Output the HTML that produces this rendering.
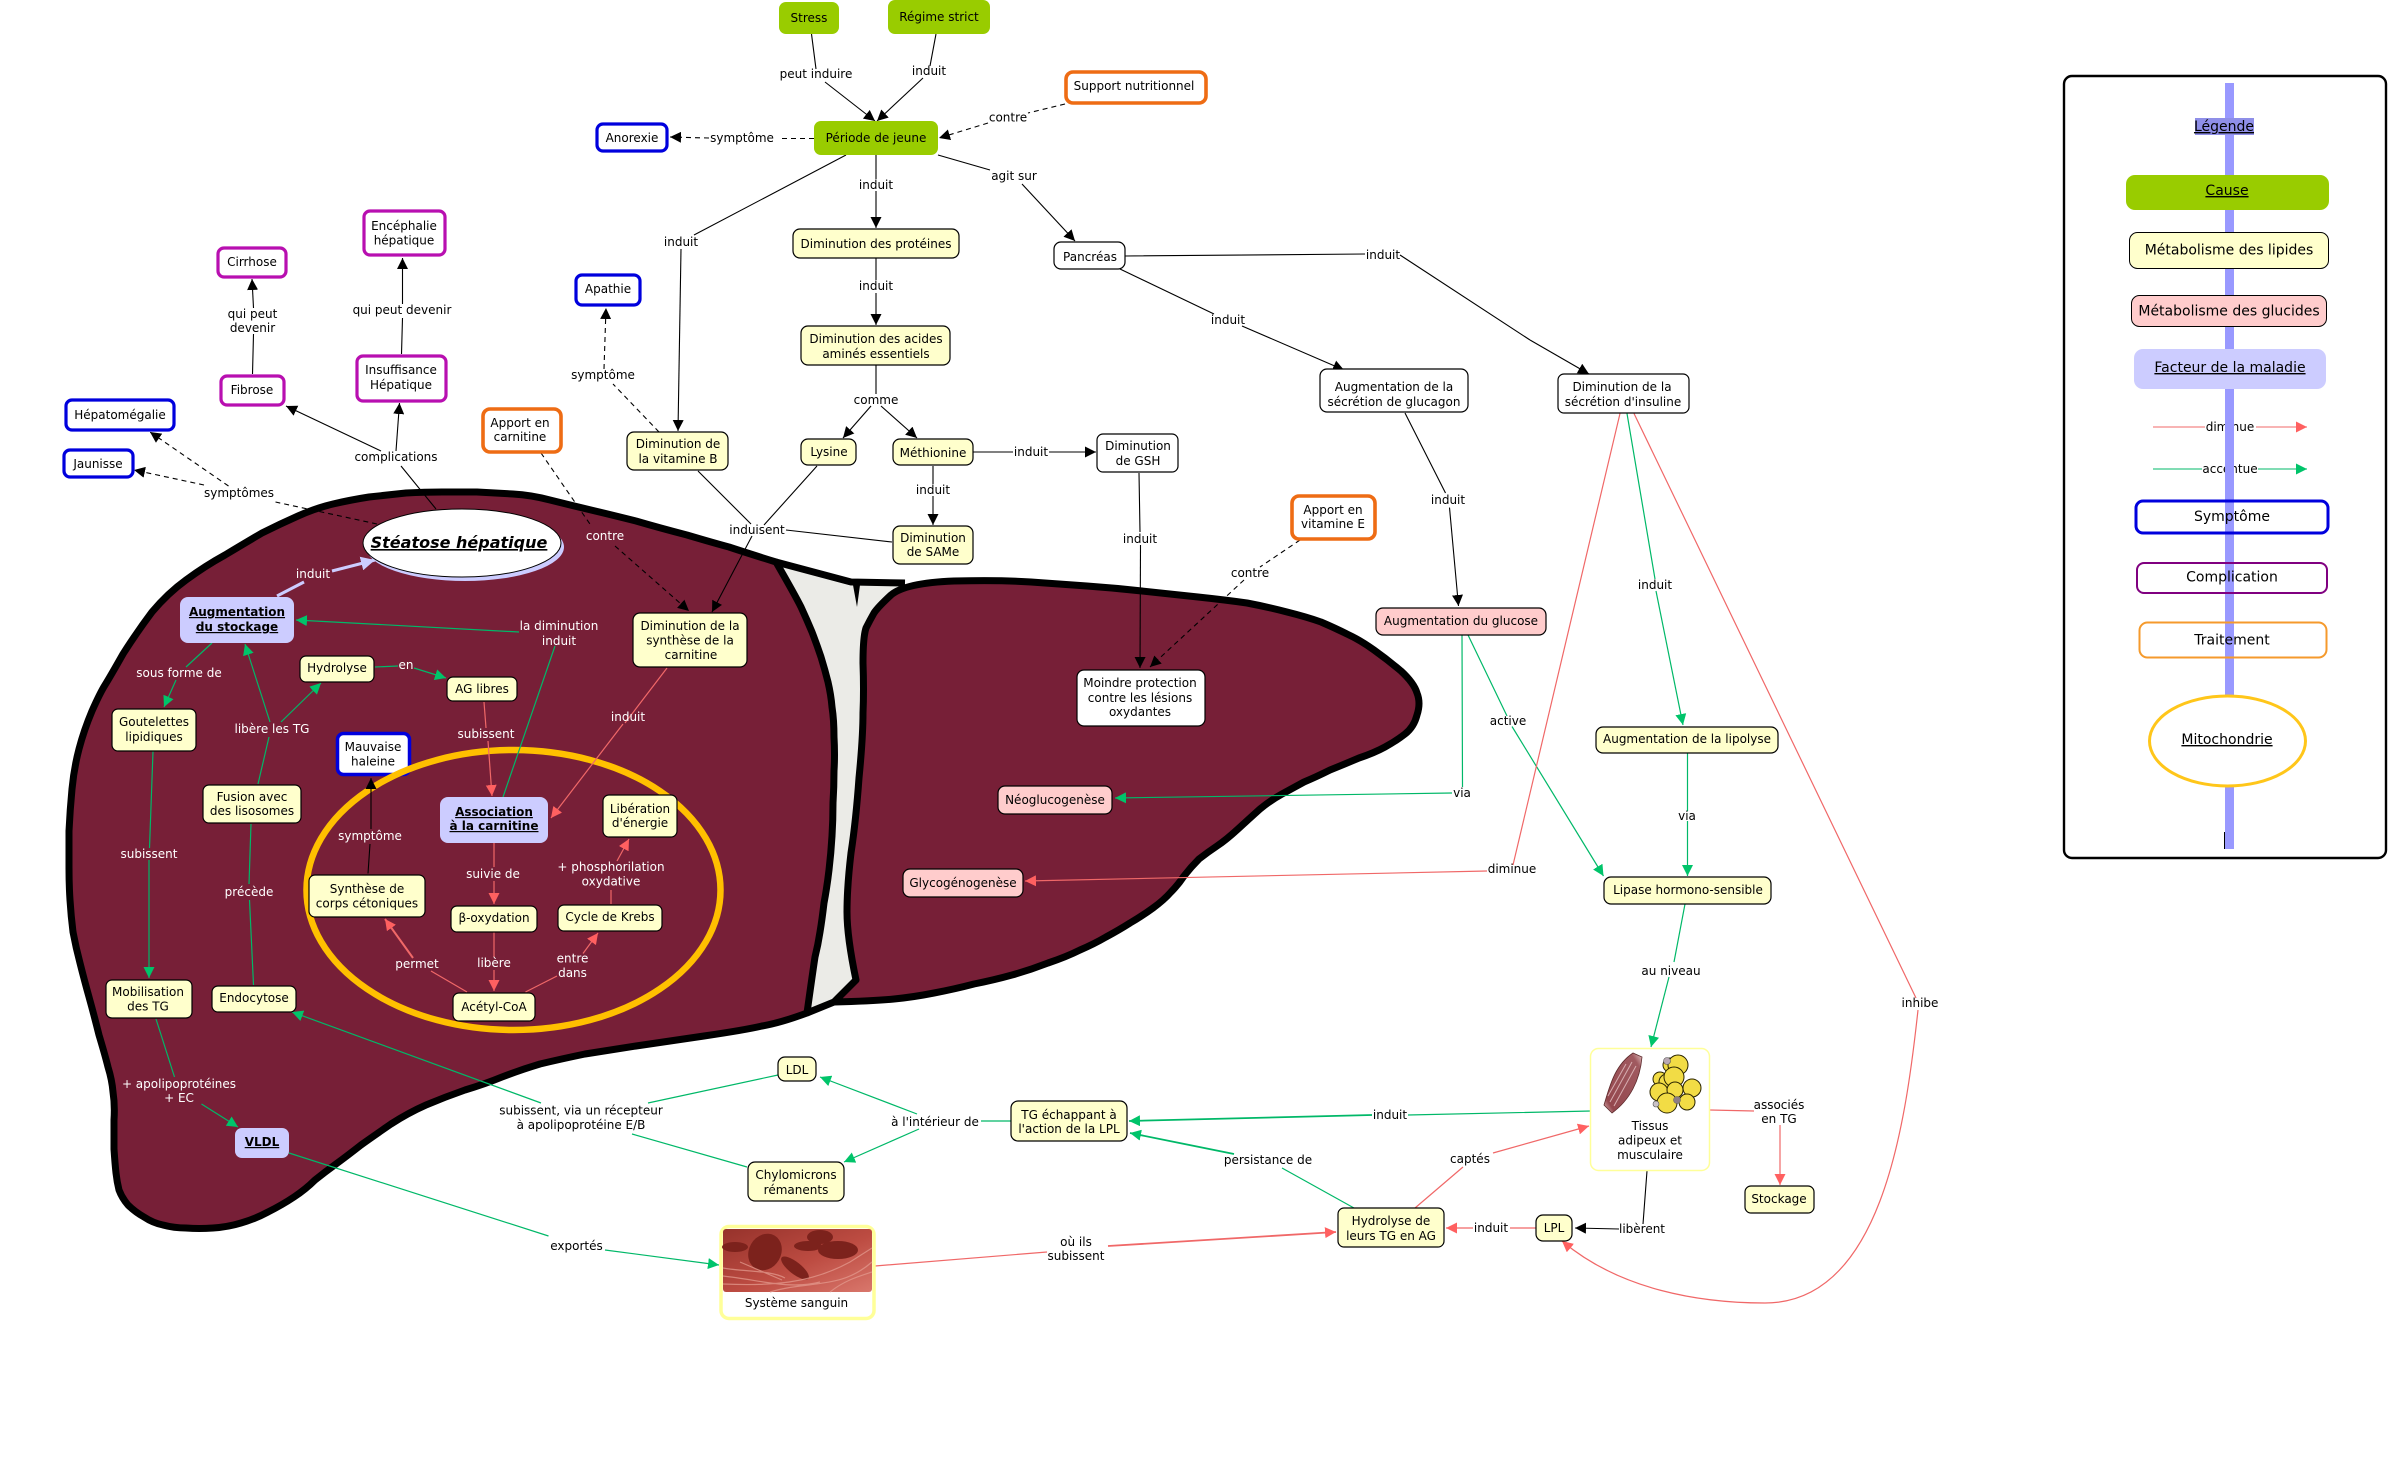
<!DOCTYPE html>
<html lang="fr"><head><meta charset="utf-8"><title>Stéatose hépatique</title>
<style>
html,body{margin:0;padding:0;background:#fff}
svg{display:block}
text{font-family:"DejaVu Sans","Liberation Sans",sans-serif;font-size:12px;text-anchor:middle;fill:#000}
.w text,text.w{fill:#fff}
.b{font-weight:bold;text-decoration:underline}
.l{font-size:14px}
.u{text-decoration:underline}
.n rect{stroke-width:1.2}
</style></head><body>
<svg width="2390" height="1468" viewBox="0 0 2390 1468" xmlns="http://www.w3.org/2000/svg">
<defs>
<marker id="k" viewBox="0 0 11 11" refX="11" refY="5.5" markerWidth="11" markerHeight="11" orient="auto" markerUnits="userSpaceOnUse"><path d="M0 0L11 5.5L0 11z" fill="#000"/></marker>
<marker id="g" viewBox="0 0 11 11" refX="11" refY="5.5" markerWidth="11" markerHeight="11" orient="auto" markerUnits="userSpaceOnUse"><path d="M0 0L11 5.5L0 11z" fill="#00c46a"/></marker>
<marker id="r" viewBox="0 0 11 11" refX="11" refY="5.5" markerWidth="11" markerHeight="11" orient="auto" markerUnits="userSpaceOnUse"><path d="M0 0L11 5.5L0 11z" fill="#ff6060"/></marker>
<marker id="v" viewBox="0 0 11 11" refX="11" refY="5.5" markerWidth="14" markerHeight="14" orient="auto" markerUnits="userSpaceOnUse"><path d="M0 0L11 5.5L0 11z" fill="#ccccff"/></marker>
<linearGradient id="blood" x1="0" y1="0" x2="1" y2="1"><stop offset="0" stop-color="#96322b"/><stop offset=".55" stop-color="#bd4c42"/><stop offset="1" stop-color="#d9776c"/></linearGradient>
<linearGradient id="musc" x1="1" y1="0" x2="0" y2="1"><stop offset="0" stop-color="#e8c8c8"/><stop offset=".15" stop-color="#a05a60"/><stop offset=".85" stop-color="#94484e"/><stop offset="1" stop-color="#e8c8c8"/></linearGradient>
</defs>

<!-- ligament -->
<polygon points="778,566 851,586 905,586 872,625 863,737 856,820 847,887 847,937 856,980 830,1000 807,1013 822,920 834,787 834,720 807,620" fill="#ebebe7"/>
<!-- left lobe -->
<path d="M105 685Q110 677 123 654Q137 632 152 612Q168 593 186 580Q205 566 225 555Q245 543 262 533Q280 524 298 516Q316 508 333 504Q350 500 369 497Q388 495 406 493Q425 492 442 492Q459 492 477 492Q495 493 513 494Q531 495 550 500Q570 505 591 510Q612 515 636 521Q660 528 687 535Q714 543 729 547Q744 552 776 562Q795 595 801 607Q807 620 812 632Q817 645 821 657Q825 670 828 682Q831 695 832 707Q834 720 834 737Q835 755 834 771Q834 787 833 803Q833 820 832 836Q831 853 829 870Q827 887 824 903Q822 920 820 932Q818 945 815 957Q813 970 807 1013Q780 1023 762 1026Q745 1030 704 1036Q663 1042 636 1046Q610 1050 585 1054Q561 1059 540 1064Q520 1070 502 1077Q485 1084 465 1090Q445 1097 426 1105Q408 1113 391 1124Q375 1135 361 1145Q347 1156 336 1164Q325 1172 315 1180Q306 1189 294 1197Q282 1205 268 1212Q255 1219 241 1223Q228 1227 213 1228Q199 1229 186 1228Q174 1228 163 1225Q153 1223 144 1217Q135 1212 128 1205Q122 1198 119 1190Q117 1182 116 1173Q115 1164 114 1149Q114 1135 114 1120Q115 1105 113 1092Q112 1080 108 1067Q105 1055 99 1035Q94 1015 89 997Q84 979 80 963Q76 948 73 932Q71 916 70 900Q69 885 69 868Q69 852 69 831Q70 810 72 789Q74 768 79 749Q84 730 92 711Q100 693 105 685z" fill="#771f37" stroke="#000" stroke-width="7" stroke-linejoin="round"/>
<!-- right lobe -->
<path d="M891 595Q905 583 954 581Q1003 580 1031 582Q1060 584 1087 586Q1115 588 1142 591Q1170 594 1198 597Q1226 600 1247 603Q1268 607 1287 612Q1307 617 1321 622Q1335 628 1347 634Q1360 640 1374 650Q1388 660 1401 671Q1414 683 1417 693Q1421 703 1417 715Q1414 727 1405 734Q1396 741 1385 747Q1374 753 1359 758Q1345 764 1330 770Q1316 777 1304 782Q1293 788 1282 794Q1271 800 1260 809Q1250 818 1238 829Q1226 840 1217 846Q1208 852 1199 859Q1191 867 1184 876Q1178 885 1171 892Q1164 900 1153 908Q1142 916 1130 923Q1119 930 1106 937Q1094 944 1080 950Q1066 957 1048 963Q1030 970 1012 975Q994 980 974 984Q955 989 934 993Q914 997 894 999Q875 1001 834 1002L856 980Q847 937 847 912Q847 887 851 853Q856 820 859 778Q863 737 863 713Q864 690 863 663Q863 637 866 628Q870 620 874 613Q878 607 891 595z" fill="#771f37" stroke="#000" stroke-width="7" stroke-linejoin="round"/>
<path d="M776 562L851 582L905 583M807 1013L834 1002" fill="none" stroke="#000" stroke-width="7"/>
<path d="M851 585L860 585L857 607L853 585z" fill="#000"/>

<!-- Mauvaise haleine (under ring) -->
<rect x="337.5" y="733.5" width="72" height="41" rx="6" fill="#fff" stroke="#0000dd" stroke-width="3.5"/>
<text x="373" y="751">Mauvaise</text><text x="373" y="765.5">haleine</text>
<!-- mitochondrie ring -->
<ellipse cx="513.5" cy="890" rx="207" ry="140" fill="none" stroke="#ffc000" stroke-width="6.5"/>

<!-- Connectors: black -->
<g fill="none" stroke="#000" stroke-width="1.1">
<path d="M811.5 34L816 69M936 34L930 66M846 155L694 235M876 155V179M938 155L990 170M876 258V280M876 365V394M973 452H1013M933 466V484M698 471L751 524M817 466L764 525M892 542L786 530M436 509L401 466M401.5 354L402.5 318M252.5 374L253.5 334M368 873.5L370 844M1125 256L1365 254M1400 255L1530 340M1120 269L1214 314M1405 413L1445.5 493M1139 473L1140 532M1647 1171L1643 1224"/>
</g>
<g fill="none" stroke="#000" stroke-width="1.1" marker-end="url(#k)">
<path d="M825 82L875 121"/><path d="M923 78L877 121"/>
<path d="M681 249L678 431"/><path d="M876 191V228"/><path d="M1022 184L1075 241"/><path d="M876 293V325"/>
<path d="M871 406L843 438"/><path d="M881 406L917 438"/><path d="M1049 452H1096"/><path d="M933 496V525"/>
<path d="M752 536L712 612"/><path d="M381 451L286 406"/><path d="M396 451L399.5 403"/><path d="M402.5 304V258"/><path d="M253.5 308L252 279"/>
<path d="M371 829V778"/><path d="M1530 340L1589 374"/><path d="M1242 326L1344 370"/><path d="M1449.5 507.6L1458.5 606"/><path d="M1140.5 545L1140 668"/>
<path d="M1619 1229L1575 1228"/>
</g>
<!-- dashed -->
<g fill="none" stroke="#000" stroke-width="1.1" stroke-dasharray="5 4">
<path d="M1065 104L1028 113M814 138.5H779M659 432L613 384M377 524L275.5 502M541 453L592 527M1300 540L1260 567"/>
</g>
<g fill="none" stroke="#000" stroke-width="1.1" stroke-dasharray="5 4" marker-end="url(#k)">
<path d="M988 123L939 138"/><path d="M709 138L670 137"/><path d="M604 369L606 308"/><path d="M228.5 486L150 432"/><path d="M204 485L134 470"/><path d="M615 546L689 611"/><path d="M1244 580L1150 667"/>
</g>
<!-- lavender -->
<path d="M277 596L304 582" fill="none" stroke="#ccccff" stroke-width="3"/>
<path d="M332 571L375 560" fill="none" stroke="#ccccff" stroke-width="3" marker-end="url(#v)"/>
<!-- green -->
<g fill="none" stroke="#00b868" stroke-width="1.2">
<path d="M503 797L555 646M212 643L186 667M153 751.5L149.5 848M258 784L269 737M253.5 985L249.5 900M249 884L251 824M375 667L398 666M156 1019L174.5 1077M648 1103L778 1075M632 1134L747 1167M289 1153L548.5 1236M1011 1121H981M1591 1111L1408 1115M1354 1208L1282 1168M1685 904L1674 962M1687.5 753V811M1627 413.5L1655 579M1462 635L1462.5 787M1468 635L1507 716"/>
</g>
<g fill="none" stroke="#00b868" stroke-width="1.2" marker-end="url(#g)">
<path d="M519 632L296 620"/><path d="M176 680L164 707"/><path d="M149 860V978"/><path d="M270 722L245 644"/><path d="M281 722L321 683"/><path d="M414 668L446 678"/>
<path d="M201.5 1104L238 1127"/><path d="M541 1103L292 1012"/><path d="M605 1250L719 1265"/><path d="M917 1114L820 1077"/><path d="M919 1129L844 1162"/>
<path d="M1372 1115L1129 1121" stroke-width="1.8"/><path d="M1234 1154L1130 1133" stroke-width="1.8"/><path d="M1669 977L1651 1047"/><path d="M1687.5 821V876"/><path d="M1656 591L1683 725"/><path d="M1452 793L1115 798"/><path d="M1512 726.5L1603.5 876"/>
</g>
<!-- red -->
<g fill="none" stroke="#f06868" stroke-width="1.2">
<path d="M484 702L486 728M667 668L625 723M494 843V867M494 932V957M467 992L431 971M525.5 992L557 976M611 904V890M1415 1208L1463 1167M1536 1228H1510M1710 1110L1754 1111M875 1266L1047 1252M1620 413.5L1513 865M1634 413.5L1916 998"/>
</g>
<g fill="none" stroke="#f06868" stroke-width="1.2" marker-end="url(#r)">
<path d="M488 741L492 796"/><path d="M623 724L551 818"/><path d="M494 881V904"/><path d="M494 970V991"/><path d="M413 958L385 919" stroke-width="2"/><path d="M583 953.5L598 933"/><path d="M617 861L629 839"/>
<path d="M1493 1153L1589 1126"/><path d="M1473 1228H1446"/><path d="M1780 1125V1185"/><path d="M1108 1246L1336 1232" stroke-width="1.8"/><path d="M1487 871L1025 881"/>
<path d="M1918 1010C1905 1130 1880 1303 1765 1303C1700 1303 1620 1290 1562 1241"/>
</g>

<!-- Stéatose -->
<ellipse cx="465" cy="547" rx="99" ry="34" fill="#ccccff"/>
<ellipse cx="462" cy="543" rx="99" ry="34" fill="#fff" stroke="#000" stroke-width="1"/>
<text x="459" y="548" style="font-size:16px;font-weight:bold;font-style:italic;text-decoration:underline">Stéatose hépatique</text>

<!-- Nodes -->
<g class="n">
<!-- green -->
<g fill="#99cc00">
<rect x="779" y="2" width="60" height="32" rx="7"/><rect x="888" y="0" width="102" height="34" rx="7"/><rect x="814" y="121" width="124" height="34" rx="7"/>
</g>
<!-- blue symptoms -->
<g fill="#fff" stroke="#0000dd" stroke-width="3.2">
<rect x="597" y="124" width="70" height="27" rx="6" style="stroke-width:3.2"/><rect x="576" y="275" width="64" height="30" rx="6" style="stroke-width:3.2"/><rect x="66" y="400" width="108" height="30" rx="6" style="stroke-width:3.2"/><rect x="64" y="450" width="69" height="27" rx="6" style="stroke-width:3.2"/>
</g>
<!-- magenta -->
<g fill="#fff" stroke="#b80fb0">
<rect x="364" y="211" width="81" height="44" rx="6" style="stroke-width:3.2"/><rect x="218" y="248" width="68" height="29" rx="6" style="stroke-width:3.2"/><rect x="221" y="376" width="63" height="29" rx="6" style="stroke-width:3.2"/><rect x="357" y="356" width="89" height="45" rx="6" style="stroke-width:3.2"/>
</g>
<!-- orange -->
<g fill="#fff" stroke="#ee6c14">
<rect x="1066" y="72" width="140" height="31" rx="7" style="stroke-width:3.6"/><rect x="483" y="409" width="78" height="43" rx="7" style="stroke-width:3.6"/><rect x="1292" y="496" width="83" height="43" rx="7" style="stroke-width:3.6"/>
</g>
<!-- yellow -->
<g fill="#ffffcc" stroke="#000">
<rect x="793" y="229" width="166" height="29" rx="7"/><rect x="801" y="326" width="149" height="39" rx="7"/><rect x="627" y="432" width="101" height="38" rx="7"/><rect x="801" y="439" width="55" height="26" rx="7"/><rect x="893" y="439" width="80" height="26" rx="7"/><rect x="893" y="526" width="80" height="38" rx="7"/><rect x="633" y="613" width="114" height="54" rx="7"/>
<rect x="300" y="656" width="74" height="26" rx="6"/><rect x="447" y="677" width="70" height="24" rx="6"/><rect x="112" y="709" width="84" height="42" rx="6"/><rect x="203" y="785" width="98" height="38" rx="6"/><rect x="603" y="795" width="74" height="42" rx="6"/><rect x="309" y="875" width="116" height="42" rx="6"/><rect x="451" y="906" width="86" height="26" rx="6"/><rect x="558" y="905" width="104" height="26" rx="6"/><rect x="453" y="993" width="82" height="28" rx="6"/><rect x="106" y="980" width="86" height="38" rx="6"/><rect x="212" y="986" width="84" height="26" rx="6"/>
<rect x="778" y="1057" width="38" height="24" rx="7"/><rect x="1011" y="1101" width="116" height="40" rx="7"/><rect x="748" y="1162" width="96" height="39" rx="7"/><rect x="1338" y="1208" width="106" height="39" rx="6"/><rect x="1536" y="1215" width="36" height="26" rx="7"/><rect x="1745" y="1186" width="69" height="27" rx="6"/><rect x="1596" y="727" width="182" height="26" rx="7"/><rect x="1604" y="877" width="167" height="27" rx="7"/>
</g>
<!-- white -->
<g fill="#fff" stroke="#000">
<rect x="1054" y="242" width="71" height="27" rx="7"/><rect x="1097" y="434" width="81" height="38" rx="6"/><rect x="1320" y="369" width="148" height="43" rx="7"/><rect x="1558" y="374" width="131" height="39" rx="6"/><rect x="1077" y="670" width="128" height="56" rx="7"/>
</g>
<!-- pink -->
<g fill="#ffcccc" stroke="#000">
<rect x="1376" y="608" width="170" height="27" rx="7"/><rect x="998" y="786" width="114" height="28" rx="7"/><rect x="903" y="869" width="120" height="28" rx="7"/>
</g>
<!-- lavender -->
<g fill="#ccccff">
<rect x="180" y="597" width="114" height="46" rx="8"/><rect x="440" y="797" width="108" height="46" rx="8"/><rect x="235" y="1128" width="54" height="30" rx="7"/>
</g>
</g>

<!-- Système sanguin -->
<rect x="721" y="1226.5" width="153" height="92" rx="8" fill="#fff" stroke="#ffff99" stroke-width="3.5"/>
<rect x="723" y="1229" width="149" height="63" rx="3" fill="url(#blood)"/>
<g fill="#7c221c"><ellipse cx="765" cy="1252" rx="16" ry="19" transform="rotate(30 765 1252)"/><ellipse cx="795" cy="1268" rx="17" ry="6" transform="rotate(38 795 1268)"/><ellipse cx="838" cy="1250" rx="20" ry="9"/><ellipse cx="820" cy="1237" rx="13" ry="7"/><ellipse cx="735" cy="1247" rx="13" ry="5"/><ellipse cx="808" cy="1246" rx="14" ry="5"/></g>
<g fill="none" stroke="#e39a8d" stroke-width="1.2" opacity=".75"><path d="M723 1284C770 1286 810 1284 850 1262L872 1248M770 1292C810 1280 840 1290 872 1262M723 1268C745 1272 770 1270 785 1278M830 1292C845 1280 860 1276 872 1272M740 1262L782 1280M723 1276C760 1280 790 1290 820 1282"/></g>
<text x="796.5" y="1307">Système sanguin</text>

<!-- Tissus -->
<rect x="1590.5" y="1048.5" width="119" height="122" rx="8" fill="#fff" stroke="#ffff99" stroke-width="1.5"/>
<path d="M1633 1053C1615 1065 1610 1085 1604 1105L1612 1113C1630 1100 1640 1080 1642 1057z" fill="url(#musc)" stroke="#5d2a2c" stroke-width=".8"/>
<path d="M1632 1062L1610 1102M1636 1066L1614 1106M1626 1064L1608 1096" stroke="#d7adb0" stroke-width="1" fill="none"/>
<g fill="#f2dc45" stroke="#2a2400" stroke-width="1">
<circle cx="1670" cy="1065" r="7"/><circle cx="1678" cy="1065" r="10"/><circle cx="1660" cy="1079" r="7"/><circle cx="1667" cy="1082" r="8"/><circle cx="1692" cy="1088" r="9"/><circle cx="1674" cy="1077" r="10"/><circle cx="1659" cy="1092" r="9"/><circle cx="1675" cy="1090" r="8"/><circle cx="1687" cy="1102" r="8"/><circle cx="1667" cy="1103" r="10"/>
</g>
<circle cx="1667" cy="1061" r="3.5" fill="#b9a9b4" stroke="#555" stroke-width=".6"/><circle cx="1656" cy="1104" r="3" fill="#c9c2c6" stroke="#555" stroke-width=".6"/><circle cx="1677" cy="1100" r="3.5" fill="#8d7d86" stroke="#555" stroke-width=".5"/>
<text x="1650" y="1130">Tissus</text><text x="1650" y="1144.5">adipeux et</text><text x="1650" y="1159">musculaire</text>

<!-- Node text -->
<text x="809" y="22">Stress</text>
<text x="939" y="21">Régime strict</text>
<text x="876" y="142">Période de jeune</text>
<text x="1134" y="90">Support nutritionnel</text>
<text x="632" y="142">Anorexie</text>
<text x="876" y="248">Diminution des protéines</text>
<text x="1090" y="261">Pancréas</text>
<text x="608" y="293">Apathie</text>
<text x="876" y="343">Diminution des acides</text><text x="876" y="358">aminés essentiels</text>
<text x="678" y="448">Diminution de</text><text x="678" y="463">la vitamine B</text>
<text x="829" y="456">Lysine</text>
<text x="933" y="457">Méthionine</text>
<text x="1138" y="450">Diminution</text><text x="1138" y="465">de GSH</text>
<text x="933" y="542">Diminution</text><text x="933" y="556">de SAMe</text>
<text x="1333" y="514">Apport en</text><text x="1333" y="528">vitamine E</text>
<text x="404" y="230">Encéphalie</text><text x="404" y="244.5">hépatique</text>
<text x="252" y="266">Cirrhose</text>
<text x="252" y="394">Fibrose</text>
<text x="401" y="374">Insuffisance</text><text x="401" y="389">Hépatique</text>
<text x="120" y="419">Hépatomégalie</text>
<text x="98" y="468">Jaunisse</text>
<text x="520" y="427">Apport en</text><text x="520" y="441">carnitine</text>
<text x="237" y="616" class="b">Augmentation</text><text x="237" y="631" class="b">du stockage</text>
<text x="690" y="630">Diminution de la</text><text x="690" y="644.5">synthèse de la</text><text x="691" y="659">carnitine</text>
<text x="337" y="672">Hydrolyse</text>
<text x="482" y="693">AG libres</text>
<text x="154" y="726">Goutelettes</text><text x="154" y="741">lipidiques</text>
<text x="252" y="801">Fusion avec</text><text x="252" y="815">des lisosomes</text>
<text x="494" y="816" class="b">Association</text><text x="494" y="830" class="b">à la carnitine</text>
<text x="640" y="813">Libération</text><text x="640" y="827">d'énergie</text>
<text x="367" y="893">Synthèse de</text><text x="367" y="907.5">corps cétoniques</text>
<text x="494" y="922">β-oxydation</text>
<text x="610" y="921">Cycle de Krebs</text>
<text x="494" y="1011">Acétyl-CoA</text>
<text x="148" y="996">Mobilisation</text><text x="148" y="1010.5">des TG</text>
<text x="254" y="1002">Endocytose</text>
<text x="262" y="1146" class="b">VLDL</text>
<text x="797" y="1074">LDL</text>
<text x="1069" y="1119">TG échappant à</text><text x="1069" y="1133">l'action de la LPL</text>
<text x="796" y="1179">Chylomicrons</text><text x="796" y="1194">rémanents</text>
<text x="1391" y="1225">Hydrolyse de</text><text x="1391" y="1240">leurs TG en AG</text>
<text x="1554" y="1232">LPL</text>
<text x="1779" y="1203">Stockage</text>
<text x="1394" y="391">Augmentation de la</text><text x="1394" y="406">sécrétion de glucagon</text>
<text x="1622" y="391">Diminution de la</text><text x="1623" y="406">sécrétion d'insuline</text>
<text x="1461" y="625">Augmentation du glucose</text>
<text x="1687" y="743">Augmentation de la lipolyse</text>
<text x="1688" y="894">Lipase hormono-sensible</text>
<text x="1140" y="687">Moindre protection</text><text x="1140" y="702">contre les lésions</text><text x="1140" y="716">oxydantes</text>
<text x="1055" y="804">Néoglucogenèse</text>
<text x="963" y="887">Glycogénogenèse</text>

<!-- Link labels: black -->
<text x="816" y="78">peut induire</text>
<text x="929" y="75">induit</text>
<text x="1008" y="121.5">contre</text>
<text x="742" y="142">symptôme</text>
<text x="681" y="246">induit</text>
<text x="876" y="189">induit</text>
<text x="1014" y="180">agit sur</text>
<text x="876" y="290">induit</text>
<text x="876" y="404">comme</text>
<text x="1031" y="456">induit</text>
<text x="933" y="494">induit</text>
<text x="757" y="534">induisent</text>
<text x="603" y="379">symptôme</text>
<text x="396" y="461">complications</text>
<text x="402" y="314">qui peut devenir</text>
<text x="252.5" y="318">qui peut</text><text x="252.5" y="332">devenir</text>
<text x="239" y="497">symptômes</text>
<text x="1383" y="259">induit</text>
<text x="1228" y="324">induit</text>
<text x="1448" y="504">induit</text>
<text x="1140" y="543">induit</text>
<text x="1250" y="577">contre</text>
<text x="1655" y="589">induit</text>
<text x="1508" y="725">active</text>
<text x="1462" y="797">via</text>
<text x="1687" y="820">via</text>
<text x="1512" y="873">diminue</text>
<text x="1671" y="975">au niveau</text>
<text x="1920" y="1007">inhibe</text>
<text x="935" y="1126">à l'intérieur de</text>
<text x="1390" y="1119">induit</text>
<text x="1268" y="1164">persistance de</text>
<text x="1470" y="1163">captés</text>
<text x="1491" y="1232">induit</text>
<text x="1642" y="1233">libèrent</text>
<text x="1779" y="1109">associés</text><text x="1779" y="1123">en TG</text>
<text x="1076" y="1246">où ils</text><text x="1076" y="1260">subissent</text>
<text x="576.5" y="1250">exportés</text>
<text x="581" y="1114.5">subissent, via un récepteur</text><text x="581" y="1129">à apolipoprotéine E/B</text>

<!-- Link labels: white -->
<g class="w">
<text x="605" y="540">contre</text>
<text x="313" y="578">induit</text>
<text x="559" y="630">la diminution</text><text x="559" y="645">induit</text>
<text x="179" y="677">sous forme de</text>
<text x="272" y="733">libère les TG</text>
<text x="406" y="669">en</text>
<text x="486" y="738">subissent</text>
<text x="628" y="721">induit</text>
<text x="370" y="840">symptôme</text>
<text x="149" y="858">subissent</text>
<text x="249" y="896">précède</text>
<text x="493" y="878">suivie de</text>
<text x="611" y="871">+ phosphorilation</text><text x="611" y="885.5">oxydative</text>
<text x="417" y="968">permet</text>
<text x="494" y="967">libère</text>
<text x="572.5" y="962.5">entre</text><text x="572.5" y="977">dans</text>
<text x="179" y="1088">+ apolipoprotéines</text><text x="179" y="1102">+ EC</text>
</g>

<!-- Legend -->
<rect x="2064" y="76" width="322" height="782" rx="8" fill="#fff" stroke="#000" stroke-width="2.4"/>
<g font-size="12">
<path d="M2153 427H2205M2256 427H2297" stroke="#f06868" stroke-width="1.1" fill="none"/>
<path d="M2297 427H2307" stroke="#f06868" stroke-width="1.1" marker-end="url(#r)"/>
<path d="M2153 469H2202M2258 469H2297" stroke="#00b868" stroke-width="1.1" fill="none"/>
<path d="M2297 469H2307" stroke="#00b868" stroke-width="1.1" marker-end="url(#g)"/>
<text x="2230" y="431">diminue</text><text x="2230" y="473">accentue</text>
</g>
<rect x="2225" y="83" width="9" height="766" fill="#9999ff"/>
<rect x="2195" y="118" width="59" height="17" fill="#8f8fe8"/>
<text x="2224" y="131" class="l u">Légende</text>
<rect x="2126" y="175" width="203" height="35" rx="9" fill="#99cc00"/>
<text x="2227" y="195" class="l u">Cause</text>
<rect x="2129.5" y="232.5" width="199" height="36" rx="8" fill="#ffffcc" stroke="#000"/>
<text x="2229" y="254.5" class="l">Métabolisme des lipides</text>
<rect x="2131.5" y="295.5" width="195" height="31" rx="8" fill="#ffcccc" stroke="#000"/>
<text x="2229" y="315.5" class="l">Métabolisme des glucides</text>
<rect x="2134" y="349" width="192" height="40" rx="9" fill="#ccccff"/>
<text x="2230" y="372" class="l u">Facteur de la maladie</text>
<rect x="2136" y="501" width="192" height="32" rx="7" fill="none" stroke="#0000dd" stroke-width="3"/>
<text x="2232" y="521" class="l">Symptôme</text>
<rect x="2137" y="563" width="190" height="30" rx="7" fill="none" stroke="#800080" stroke-width="2"/>
<text x="2232" y="581.5" class="l">Complication</text>
<rect x="2139.5" y="622.5" width="187" height="35" rx="8" fill="none" stroke="#f59a2c" stroke-width="2"/>
<text x="2232" y="644.5" class="l">Traitement</text>
<ellipse cx="2227.5" cy="741" rx="78" ry="45" fill="#fff" stroke="#ffc61a" stroke-width="3"/>
<text x="2227" y="744" class="l u">Mitochondrie</text>
<path d="M2224.5 832V849" stroke="#000" stroke-width="1"/>
</svg>
</body></html>
